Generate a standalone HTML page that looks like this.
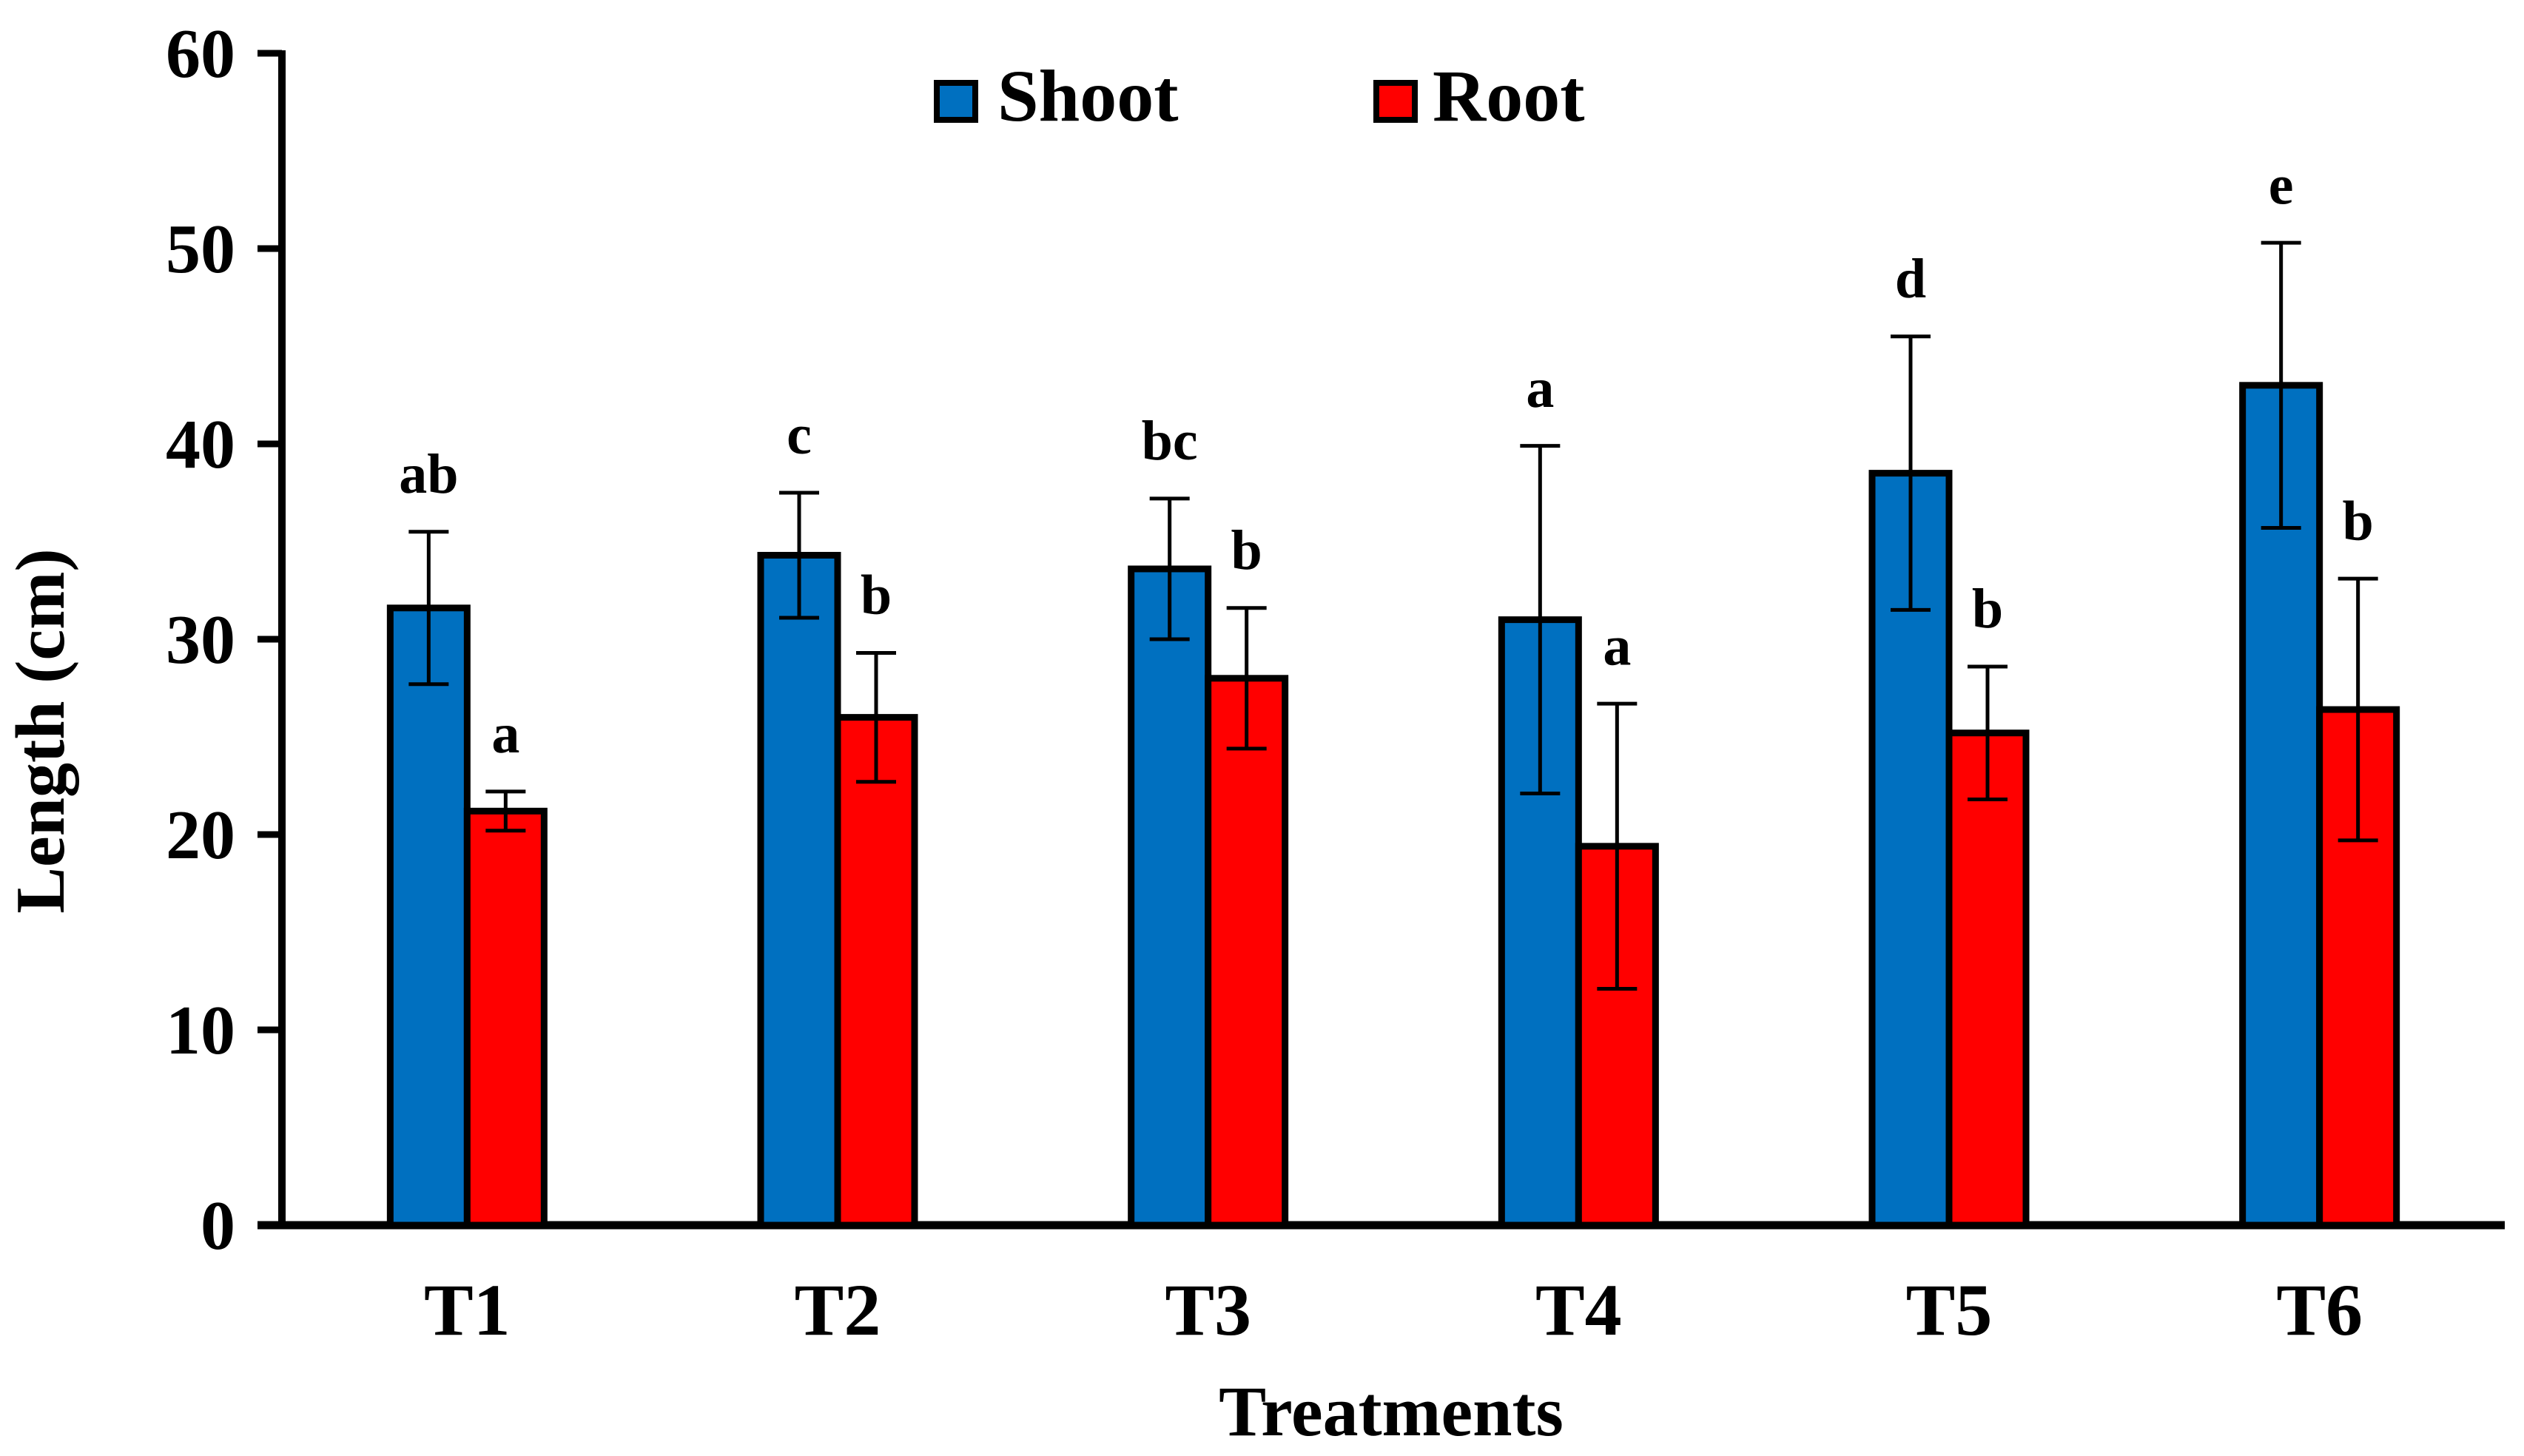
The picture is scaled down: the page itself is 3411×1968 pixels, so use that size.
<!DOCTYPE html>
<html><head><meta charset="utf-8"><style>
html,body{margin:0;padding:0;background:#fff;}
svg{display:block;font-family:"Liberation Serif",serif;font-weight:bold;}
</style></head><body>
<svg id="chart" width="3411" height="1968" viewBox="0 0 3411 1968" xmlns="http://www.w3.org/2000/svg">
<g id="axes"></g>
<g id="bars"></g>
<g id="legend">
  <rect x="1266" y="112" width="52" height="50" fill="#0070c0" stroke="#000" stroke-width="8"/>
  <text x="1348" y="163" font-size="100">Shoot</text>
  <rect x="1860" y="112" width="52" height="50" fill="#ff0000" stroke="#000" stroke-width="8"/>
  <text x="1936" y="163" font-size="100">Root</text>
</g>
<text x="1880" y="1940" font-size="96" text-anchor="middle">Treatments</text>
<text transform="translate(86,988) rotate(-90)" font-size="94" text-anchor="middle">Length (cm)</text>
</svg>
<script>
const categories = ["T1","T2","T3","T4","T5","T6"];
const shootValues = [31.6,34.3,33.6,31.0,38.5,43.0];
const shootErrors = [3.9,3.2,3.6,8.9,7.0,7.3];
const shootLetters = ["ab","c","bc","a","d","e"];
const rootValues = [21.2,26.0,28.0,19.4,25.2,26.4];
const rootErrors = [1.0,3.3,3.6,7.3,3.4,6.7];
const rootLetters = ["a","b","b","a","b","b"];
const yTicks = [0,10,20,30,40,50,60];

const NS = "http://www.w3.org/2000/svg";
const X0 = 381, X1 = 3385, Y0 = 1656, Y60 = 72, YMAX = 60;
const slot = (X1 - X0) / categories.length;
const barW = 104;
function y(v){ return Y0 - (v / YMAX) * (Y0 - Y60); }
function xc(i){ return X0 + slot * (i + 0.5); }
function mk(tag, attrs, parent){
  const e = document.createElementNS(NS, tag);
  for (const k in attrs) e.setAttribute(k, attrs[k]);
  parent.appendChild(e);
  return e;
}
const axes = document.getElementById('axes');
const bars = document.getElementById('bars');

yTicks.forEach(t => {
  const ln = mk('line', {x1: 348, x2: X0, y1: y(t), y2: y(t), stroke: '#000', 'stroke-width': 9}, axes);
  
  
  const tx = mk('text', {x: 318, y: y(t) + 32, 'font-size': 94, 'text-anchor': 'end'}, axes);
  tx.textContent = t;
  
  
});

function drawBar(i, v, err, letter, left, fill, series){
  const top = y(v);
  const r = mk('rect', {x: left, y: top, width: barW, height: Y0 - top, fill: fill, stroke: '#000', 'stroke-width': 9}, bars);
  
  
  const cx = left + barW / 2;
  const g = mk('g', {stroke: '#000', 'stroke-width': 5}, bars);
  
  
  mk('line', {x1: cx, x2: cx, y1: y(v + err), y2: y(v - err)}, g);
  mk('line', {x1: cx - 27, x2: cx + 27, y1: y(v + err), y2: y(v + err)}, g);
  mk('line', {x1: cx - 27, x2: cx + 27, y1: y(v - err), y2: y(v - err)}, g);
  const t = mk('text', {x: cx, y: y(v + err + 2), 'font-size': 76, 'text-anchor': 'middle'}, bars);
  t.textContent = letter;
  
  
}

categories.forEach((c, i) => {
  const cx = xc(i);
  drawBar(i, shootValues[i], shootErrors[i], shootLetters[i], cx - barW, '#0070c0', 'shoot');
  drawBar(i, rootValues[i], rootErrors[i], rootLetters[i], cx, '#ff0000', 'root');
  const t = mk('text', {x: cx, y: 1804, 'font-size': 100, 'text-anchor': 'middle'}, axes);
  t.textContent = c;
  
  
});

const ya = mk('line', {x1: X0, x2: X0, y1: Y60 - 4, y2: Y0 + 5, stroke: '#000', 'stroke-width': 10}, axes);


const xa = mk('line', {x1: 348, x2: X1, y1: Y0, y2: Y0, stroke: '#000', 'stroke-width': 11}, axes);


</script>
</body></html>
